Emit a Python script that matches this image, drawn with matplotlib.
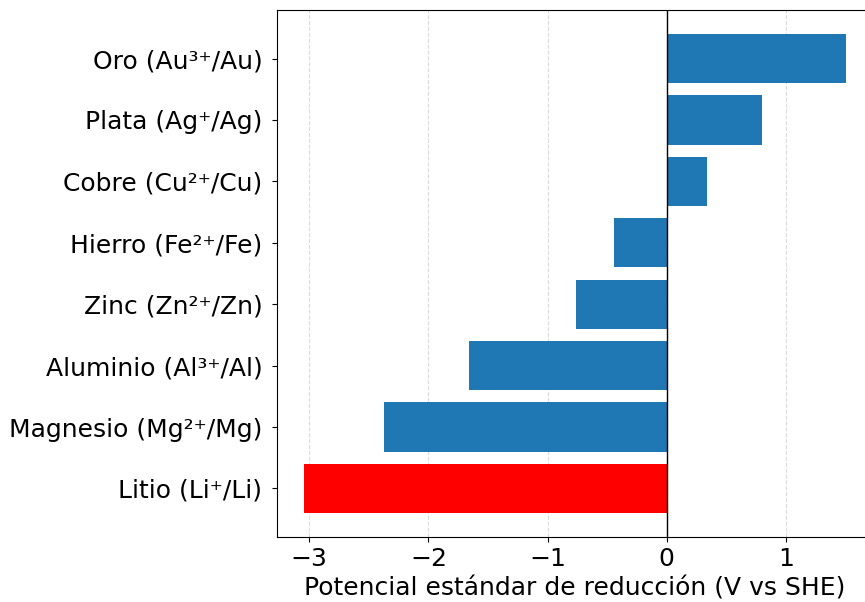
import matplotlib
matplotlib.use("Agg")
from matplotlib import pyplot as plt

# pares redox, de abajo hacia arriba
pares = ["Litio (Li⁺/Li)", "Magnesio (Mg²⁺/Mg)", "Aluminio (Al³⁺/Al)",
         "Zinc (Zn²⁺/Zn)", "Hierro (Fe²⁺/Fe)", "Cobre (Cu²⁺/Cu)",
         "Plata (Ag⁺/Ag)", "Oro (Au³⁺/Au)"]
potenciales = [-3.04, -2.37, -1.66, -0.76, -0.44, 0.34, 0.80, 1.50]
colores = ["red"] + ["#1f77b4"] * 7

fig = plt.figure(figsize=(8.65, 6.02), dpi=100)
ax = fig.add_axes([277 / 865, 65 / 602, 596 / 865, 527 / 602])

ax.barh(range(len(pares)), potenciales, height=0.8, color=colores, zorder=2)
ax.set_yticks(range(len(pares)))
ax.set_yticklabels(pares)
ax.set_xlim(-3.27, 1.73)
ax.axvline(0, color="black", linewidth=1, zorder=3)
ax.grid(axis="x", linestyle="--", color="lightgray", alpha=0.8, zorder=0)
ax.set_xlabel("Potencial estándar de reducción (V vs SHE)", fontsize=18, labelpad=4)
ax.tick_params(labelsize=18)
ax.tick_params(axis="y", pad=7)

fig.savefig("out.png", dpi=100)
